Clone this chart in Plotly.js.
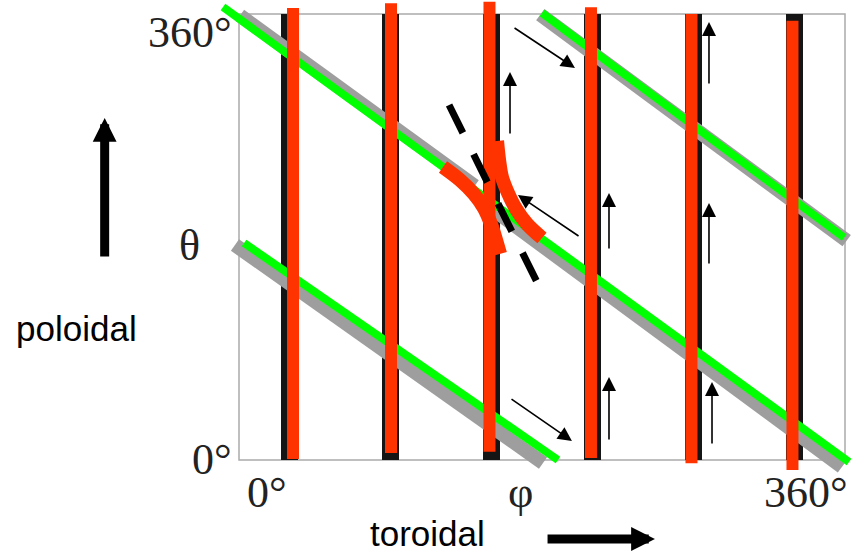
<!DOCTYPE html>
<html>
<head>
<meta charset="utf-8">
<script src="https://cdn.plot.ly/plotly-3.0.1.min.js"></script>
<style>html,body{margin:0;padding:0;background:#fff;}#chart{width:852px;height:556px;}</style>
</head>
<body>
<div id="chart"></div>
<script>
// ---- data (toroidal angle phi, poloidal angle theta, degrees) ----
const blackX      = [30, 90, 150, 210, 270, 330];
const blackBottom = [0, 0, 0, 0, 0, 0];
const blackTop    = [360, 360, 360, 360, 360, 360];

const redX      = [32.1, 90.3, 148.8, 209.1, 268.8, 328.8];
const redBottom = [0.8, 5.7, 6.7, 1.6, -2.7, -8.1];
const redTop    = [364.8, 368.6, 369.9, 365.4, 360, 354.6];

const greenPhi   = [[-9.5, 362.4], [180.0, 359.5], [3.0, 189.5]];
const greenTheta = [[365.6, -1.6], [360.8, 179.5], [175.2, 0]];

const grayPhi   = [[0.6, 140], [150, 358.2], [179, 361], [-2.4, 180.6]];
const grayTheta = [[358.8, 221.2], [203.1, -5.5], [359.5, 177], [173.5, -2.4]];

const curveAPhi   = [121.2, 131.3, 139.6, 145.5, 149.7, 152.7, 155.1];
const curveATheta = [236.5, 226.0, 214.7, 203.4, 190.5, 177.6, 166.3];
const curveBPhi   = [153.3, 154.5, 156.2, 159.8, 164.6, 171.1, 180.0];
const curveBTheta = [257.5, 242.2, 228.4, 215.5, 202.6, 190.5, 179.2];

const dashPhi   = [124.8, 177.6];
const dashTheta = [286.5, 142.1];

const arrowTailPhi   = [161.0, 202.6, 162.8, 161.0, 219.8, 279.2, 279.2, 219.8, 281.0];
const arrowTailTheta = [262.3, 180.0, 349.5, 50.0, 169.5, 302.7, 157.4, 15.3, 12.1];
const arrowTipPhi    = [161.0, 165.7, 199.6, 197.8, 219.8, 279.2, 279.2, 219.8, 281.0];
const arrowTipTheta  = [313.2, 213.9, 316.4, 15.3, 215.5, 353.5, 207.4, 67.0, 63.0];

const bigTailPhi   = [-79.8, 182.4];
const bigTailTheta = [163.0, -63.8];
const bigTipPhi    = [-79.8, 247.1];
const bigTipTheta  = [276.1, -63.8];

const serifLabels = ['360°', 'θ', '0°', '0°', 'φ', '360°'];
const serifPhi    = [-2.97, -29.7, -2.97, 16.6, 167.5, 363.0];
const serifTheta  = [345.3, 173.5, 0.4, -26.4, -26.4, -26.4];
const serifAnchor = ['right', 'center', 'right', 'center', 'center', 'right'];

const sansLabels = ['poloidal', 'toroidal'];
const sansPhi    = [-96.5, 112.0];
const sansTheta  = [106.5, -59.5];

// ---- build traces ----
const traces = [];
blackX.forEach((x, i) => traces.push({
  x: [x, x], y: [blackBottom[i], blackTop[i]], mode: 'lines',
  line: {color: '#151515', width: 17}, hoverinfo: 'skip'
}));
grayPhi.forEach((p, i) => traces.push({
  x: p, y: grayTheta[i], mode: 'lines',
  line: {color: '#9e9e9e', width: 14}, hoverinfo: 'skip'
}));
greenPhi.forEach((p, i) => traces.push({
  x: p, y: greenTheta[i], mode: 'lines',
  line: {color: '#00ff00', width: 8}, hoverinfo: 'skip'
}));
redX.forEach((x, i) => traces.push({
  x: [x, x], y: [redBottom[i], redTop[i]], mode: 'lines',
  line: {color: '#ff3300', width: 12}, hoverinfo: 'skip'
}));
traces.push({x: curveAPhi, y: curveATheta, mode: 'lines',
  line: {color: '#ff3300', width: 14, shape: 'spline'}, hoverinfo: 'skip'});
traces.push({x: curveBPhi, y: curveBTheta, mode: 'lines',
  line: {color: '#ff3300', width: 14, shape: 'spline'}, hoverinfo: 'skip'});
traces.push({x: dashPhi, y: dashTheta, mode: 'lines',
  line: {color: '#000000', width: 7, dash: '31px,24px'}, hoverinfo: 'skip'});

const annotations = [];
arrowTipPhi.forEach((x, i) => annotations.push({
  x: x, y: arrowTipTheta[i], ax: arrowTailPhi[i], ay: arrowTailTheta[i],
  xref: 'x', yref: 'y', axref: 'x', ayref: 'y', text: '', showarrow: true,
  arrowhead: 2, arrowsize: 1.75, arrowwidth: 1.6, arrowcolor: '#000', standoff: 0
}));
bigTipPhi.forEach((x, i) => annotations.push({
  x: x, y: bigTipTheta[i], ax: bigTailPhi[i], ay: bigTailTheta[i],
  xref: 'x', yref: 'y', axref: 'x', ayref: 'y', text: '', showarrow: true,
  arrowhead: 2, arrowsize: 0.53, arrowwidth: 9, arrowcolor: '#000', standoff: 0
}));
serifLabels.forEach((t, i) => annotations.push({
  x: serifPhi[i], y: serifTheta[i], xref: 'x', yref: 'y', text: t, showarrow: false,
  xanchor: serifAnchor[i], yanchor: 'middle',
  font: {family: 'Liberation Serif, Times New Roman, serif', size: 44, color: '#222'}
}));
sansLabels.forEach((t, i) => annotations.push({
  x: sansPhi[i], y: sansTheta[i], xref: 'x', yref: 'y', text: t, showarrow: false,
  xanchor: 'center', yanchor: 'middle',
  font: {family: 'Liberation Sans, Arial, sans-serif', size: 35, color: '#000'}
}));

const layout = {
  width: 852, height: 556,
  margin: {l: 0, r: 0, t: 0, b: 0},
  paper_bgcolor: '#fff', plot_bgcolor: '#fff',
  showlegend: false,
  xaxis: {range: [-141.98, 364.16], visible: false, fixedrange: true},
  yaxis: {range: [-77.49, 371.30], visible: false, fixedrange: true},
  shapes: [{type: 'rect', xref: 'x', yref: 'y', x0: 0, x1: 360, y0: 0, y1: 360,
    line: {color: '#aaaaaa', width: 1.5}, layer: 'below'}],
  annotations: annotations
};

Plotly.newPlot('chart', traces, layout, {staticPlot: true, displayModeBar: false});
</script>
</body>
</html>
